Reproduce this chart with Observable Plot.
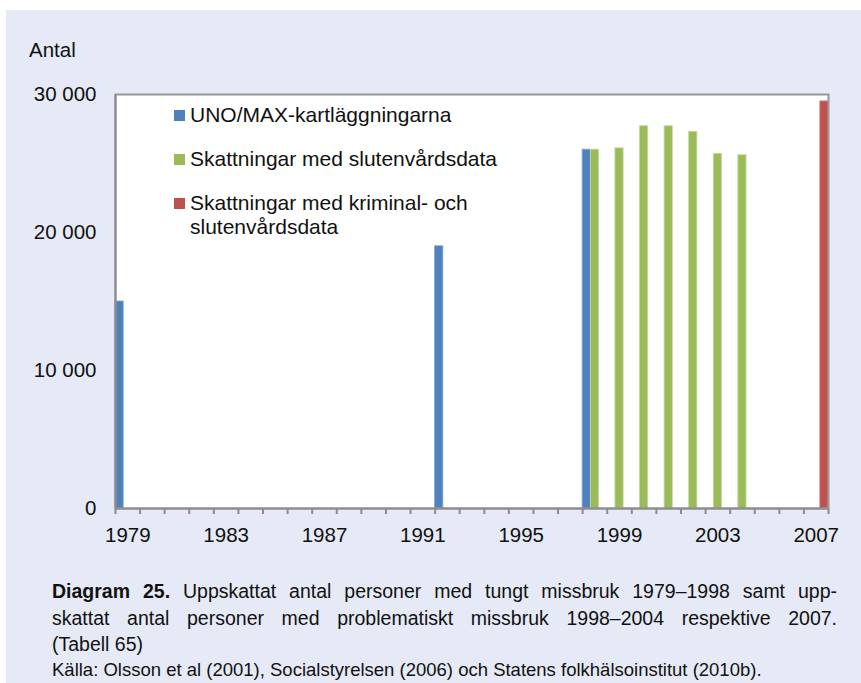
<!DOCTYPE html>
<html>
<head>
<meta charset="utf-8">
<script src="https://cdn.jsdelivr.net/npm/d3@7"></script>
<script src="https://cdn.jsdelivr.net/npm/@observablehq/plot@0.6"></script>
<style>
  html, body { margin: 0; padding: 0; background: #ffffff; }
  body { width: 861px; height: 683px; position: relative; overflow: hidden;
         font-family: "Liberation Sans", Arial, sans-serif; color: #111; }
  #bg { position: absolute; left: 6px; top: 10px; right: 0; bottom: 0; background: #e6eaf6; }
  #chart { position: absolute; left: 0; top: 0; }
  .abs { position: absolute; white-space: nowrap; }
  #antal { left: 29px; top: 38px; font-size: 20.5px; line-height: 24px; }
  .leg { position: absolute; left: 174px; font-size: 21px; line-height: 24px; }
  .leg .sw { position: absolute; left: 0; top: 7px; width: 11px; height: 11px; }
  .leg .tx { position: absolute; left: 16px; top: 0; white-space: nowrap; }
  #caption { position: absolute; left: 52px; top: 578px; width: 785px; font-size: 19.5px; line-height: 26.5px; }
  #caption .j { text-align: justify; text-align-last: justify; white-space: normal; }
  #source { position: absolute; left: 52px; top: 658px; font-size: 18.5px; line-height: 24px; white-space: nowrap; }
</style>
</head>
<body>
<div id="bg"></div>
<div id="chart"></div>
<div id="antal" class="abs">Antal</div>
<div id="legend"></div>
<div id="caption">
  <div class="j"><b>Diagram 25.</b> Uppskattat antal personer med tungt missbruk 1979–1998 samt upp-</div>
  <div class="j">skattat antal personer med problematiskt missbruk 1998–2004 respektive 2007.</div>
  <div>(Tabell 65)</div>
</div>
<div id="source">Källa: Olsson et al (2001), Socialstyrelsen (2006) och Statens folkhälsoinstitut (2010b).</div>
<script>
// ---- Data ----
const seriesNames = [
  "UNO/MAX-kartläggningarna",
  "Skattningar med slutenvårdsdata",
  "Skattningar med kriminal- och slutenvårdsdata"
];
const seriesColors = ["#4f81bd", "#9bbb59", "#c0504d"];
const seriesEdges = ["#7da3d3", "#c3d99e", "#d98583"];

const unoYears = [1979, 1992, 1998];
const unoValues = [15000, 19000, 26000];

const slutenYears = [1998, 1999, 2000, 2001, 2002, 2003, 2004];
const slutenValues = [26000, 26100, 27700, 27700, 27300, 25700, 25600];

const kriminalYears = [2007];
const kriminalValues = [29500];

const firstYear = 1979;
const lastYear = 2007;
const labelYears = [1979, 1983, 1987, 1991, 1995, 1999, 2003, 2007];
const yTicks = [0, 10000, 20000, 30000];

// ---- Build table ----
const rows = [];
[[unoYears, unoValues], [slutenYears, slutenValues], [kriminalYears, kriminalValues]]
  .forEach(([yrs, vals], s) => yrs.forEach((yr, i) => rows.push({year: yr, value: vals[i], slot: s, series: seriesNames[s]})));

const nSlots = seriesNames.length;
const allYears = d3.range(firstYear, lastYear + 2);
const fmt = d => d3.format(",")(d).replace(/,/g, " ");

const plot = Plot.plot({
  width: 861,
  height: 560,
  marginLeft: 115,
  marginRight: 33,
  marginTop: 94,
  marginBottom: 52,
  style: {background: "transparent", fontFamily: "'Liberation Sans', Arial, sans-serif", color: "#111"},
  x: {type: "linear", domain: [firstYear, lastYear + 1]},
  y: {domain: [0, 30000]},
  marks: [
    Plot.frame({fill: "white", stroke: null}),
    Plot.rectY(rows, {
      x1: d => d.year + d.slot / nSlots,
      x2: d => d.year + (d.slot + 1) / nSlots,
      y1: 0,
      y2: "value",
      fill: d => seriesColors[d.slot],
      stroke: d => seriesEdges[d.slot],
      strokeWidth: 0.8
    }),
    Plot.frame({stroke: "#979797", strokeWidth: 2}),
    Plot.ruleY([0], {stroke: "#8c8c8c", strokeWidth: 2}),
    Plot.ruleX([firstYear], {stroke: "#8c8c8c", strokeWidth: 2}),
    Plot.axisX({ticks: allYears, tickSize: 6, tickFormat: () => "", stroke: "#8c8c8c", strokeWidth: 2}),
    Plot.axisX({ticks: labelYears.map(y => y + 0.5), tickSize: 0, tickPadding: 19,
                tickFormat: d => String(d - 0.5), fontSize: 20.5, label: null}),
    Plot.axisY({ticks: yTicks, tickSize: 0, tickPadding: 19, tickFormat: fmt, fontSize: 20.5, label: null})
  ]
});
document.getElementById("chart").appendChild(plot);

// ---- Legend ----
const legend = document.getElementById("legend");
const legTops = [103, 147, 191];
const legLines = [["UNO/MAX-kartläggningarna"], ["Skattningar med slutenvårdsdata"], ["Skattningar med kriminal- och", "slutenvårdsdata"]];
seriesNames.forEach((name, i) => {
  const row = document.createElement("div");
  row.className = "leg";
  row.style.top = legTops[i] + "px";
  const sw = document.createElement("div");
  sw.className = "sw";
  sw.style.background = seriesColors[i];
  const tx = document.createElement("div");
  tx.className = "tx";
  tx.innerHTML = legLines[i].join("<br>");
  row.appendChild(sw);
  row.appendChild(tx);
  legend.appendChild(row);
});
</script>
</body>
</html>
